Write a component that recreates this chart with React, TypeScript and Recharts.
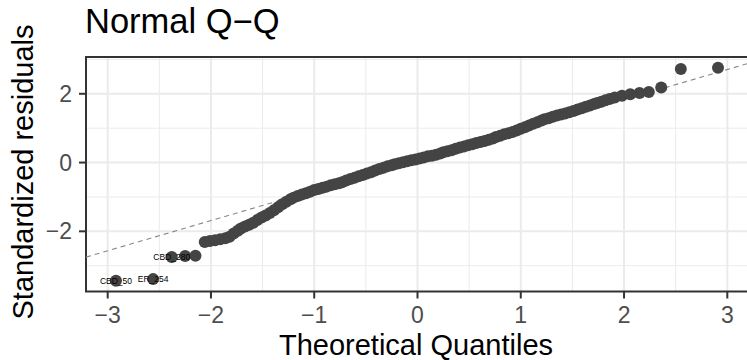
import React from 'react';
import { ScatterChart, Scatter, XAxis, YAxis, ReferenceLine, ReferenceArea, CartesianGrid } from 'recharts';

// Theoretical quantiles (x) and standardized residuals (y)
const theoretical = [
  -2.92, -2.56, -2.38, -2.25, -2.15, -2.06, -2.01, -1.96, -1.91, -1.86,
  -1.82, -1.78, -1.74, -1.71, -1.67, -1.63, -1.59, -1.55, -1.51, -1.47,
  -1.43, -1.39, -1.35, -1.31, -1.27, -1.23, -1.20, -1.16, -1.12, -1.08,
  -1.04, -1.00, -0.96, -0.92, -0.88, -0.84, -0.80, -0.76, -0.73, -0.69,
  -0.65, -0.61, -0.57, -0.53, -0.49, -0.45, -0.41, -0.37, -0.33, -0.29,
  -0.25, -0.22, -0.18, -0.14, -0.10, -0.06, -0.02, 0.02, 0.06, 0.10,
  0.14, 0.18, 0.22, 0.25, 0.29, 0.33, 0.37, 0.41, 0.45, 0.49,
  0.53, 0.57, 0.61, 0.65, 0.69, 0.73, 0.76, 0.80, 0.84, 0.88,
  0.92, 0.96, 1.00, 1.04, 1.08, 1.12, 1.16, 1.20, 1.23, 1.27,
  1.31, 1.35, 1.39, 1.43, 1.47, 1.51, 1.55, 1.59, 1.63, 1.67,
  1.71, 1.74, 1.78, 1.82, 1.86, 1.91, 1.98, 2.06, 2.15, 2.24,
  2.36, 2.55, 2.91,
];
const residuals = [
  -3.44, -3.39, -2.75, -2.72, -2.71, -2.31, -2.28, -2.26, -2.23, -2.20,
  -2.16, -2.06, -1.98, -1.92, -1.86, -1.81, -1.75, -1.67, -1.60, -1.54,
  -1.47, -1.39, -1.30, -1.21, -1.14, -1.07, -1.02, -0.97, -0.93, -0.89,
  -0.85, -0.80, -0.77, -0.73, -0.70, -0.66, -0.63, -0.60, -0.57, -0.52,
  -0.48, -0.44, -0.40, -0.36, -0.32, -0.28, -0.23, -0.19, -0.15, -0.11,
  -0.08, -0.05, -0.02, 0.01, 0.04, 0.07, 0.09, 0.12, 0.15, 0.18,
  0.20, 0.23, 0.26, 0.30, 0.33, 0.36, 0.40, 0.44, 0.47, 0.50,
  0.53, 0.57, 0.60, 0.63, 0.66, 0.70, 0.74, 0.78, 0.82, 0.85,
  0.89, 0.93, 0.98, 1.03, 1.08, 1.13, 1.17, 1.22, 1.26, 1.29,
  1.33, 1.37, 1.40, 1.43, 1.46, 1.50, 1.54, 1.58, 1.62, 1.66,
  1.70, 1.73, 1.77, 1.81, 1.85, 1.89, 1.94, 1.99, 2.02, 2.05,
  2.18, 2.72, 2.76,
];

const labelNames = ['CBD_50', 'ER_254', 'CBD_280'];
const labelX = [-2.92, -2.56, -2.38];
const labelY = [-3.44, -3.39, -2.75];

const xTicks = [-3, -2, -1, 0, 1, 2, 3];
const yTicks = [-2, 0, 2];
const xMinor = [-2.5, -1.5, -0.5, 0.5, 1.5, 2.5];
const yMinor = [-3, -1, 1, 3];
const xDomain = [-3.21, 3.21];
const yDomain = [-3.75, 3.07];
const qqLineX = [-3.21, 3.21];
const qqLineY = [-2.75, 2.89];

const points = theoretical.map((x, i) => ({ x, y: residuals[i] }));
const labelPoints = labelNames.map((label, i) => ({ x: labelX[i], y: labelY[i], label }));

const FONT = '"Liberation Sans", Arial, Helvetica, sans-serif';
const fmt = (v: number) => (v < 0 ? '\u2212' + Math.abs(v) : String(v));

const Dot = (props: any) => {
  const { cx, cy } = props;
  if (cx == null || cy == null) return null;
  return <circle cx={cx} cy={cy} r={6} fill="#444444" />;
};

const LabelShape = (props: any) => {
  const { cx, cy, payload } = props;
  if (cx == null || cy == null) return null;
  return (
    <text x={cx} y={cy} textAnchor="middle" dominantBaseline="central" fontSize={8.5} fill="#000" fontFamily={FONT}>
      {payload.label}
    </text>
  );
};

export default function App() {
  return (
    <div style={{ position: 'absolute', left: 0, top: 0, width: 747, height: 360, overflow: 'hidden', background: '#fff', fontFamily: FONT }}>
      <ScatterChart width={750} height={360} margin={{ top: 57, right: 1, bottom: 0, left: 0 }}>
        <CartesianGrid stroke="#EBEBEB" strokeWidth={1} verticalValues={xMinor} horizontalValues={yMinor} />
        <CartesianGrid stroke="#EBEBEB" strokeWidth={2} verticalValues={xTicks} horizontalValues={yTicks} />
        <XAxis
          type="number"
          dataKey="x"
          domain={xDomain}
          ticks={xTicks}
          allowDataOverflow
          tickFormatter={fmt}
          height={68.5}
          axisLine={false}
          tickSize={7}
          tickMargin={8}
          tickLine={{ stroke: '#333333', strokeWidth: 2 }}
          tick={{ fill: '#4D4D4D', fontSize: 23, fontFamily: FONT }}
          label={{
            content: () => (
              <text x={416} y={355} textAnchor="middle" fontSize={29} fill="#000" fontFamily={FONT}>
                Theoretical Quantiles
              </text>
            ),
          }}
        />
        <YAxis
          type="number"
          dataKey="y"
          domain={yDomain}
          ticks={yTicks}
          allowDataOverflow
          tickFormatter={fmt}
          width={86}
          axisLine={false}
          tickSize={7}
          tickMargin={7}
          tickLine={{ stroke: '#333333', strokeWidth: 2 }}
          tick={{ fill: '#4D4D4D', fontSize: 23, fontFamily: FONT }}
          label={{
            content: () => (
              <text
                x={33}
                y={172}
                transform="rotate(-90, 33, 172)"
                textAnchor="middle"
                fontSize={29}
                fill="#000"
                fontFamily={FONT}
              >
                Standardized residuals
              </text>
            ),
          }}
        />
        <Scatter data={points} shape={<Dot />} isAnimationActive={false} />
        <ReferenceLine
          segment={[
            { x: qqLineX[0], y: qqLineY[0] },
            { x: qqLineX[1], y: qqLineY[1] },
          ]}
          stroke="#888888"
          strokeWidth={1.1}
          strokeDasharray="5 4"
          ifOverflow="visible"
        />
        <Scatter data={labelPoints} shape={<LabelShape />} isAnimationActive={false} />
        <ReferenceArea
          x1={xDomain[0]}
          x2={xDomain[1]}
          y1={yDomain[0]}
          y2={yDomain[1]}
          fill="none"
          fillOpacity={0}
          stroke="#333333"
          strokeWidth={2}
          ifOverflow="visible"
        />
      </ScatterChart>
      <svg width={747} height={60} style={{ position: 'absolute', left: 0, top: 0, pointerEvents: 'none' }}>
        <text x={85} y={33.3} fontSize={34.5} fill="#000" fontFamily={FONT}>
          Normal Q{'\u2212'}Q
        </text>
      </svg>
    </div>
  );
}
